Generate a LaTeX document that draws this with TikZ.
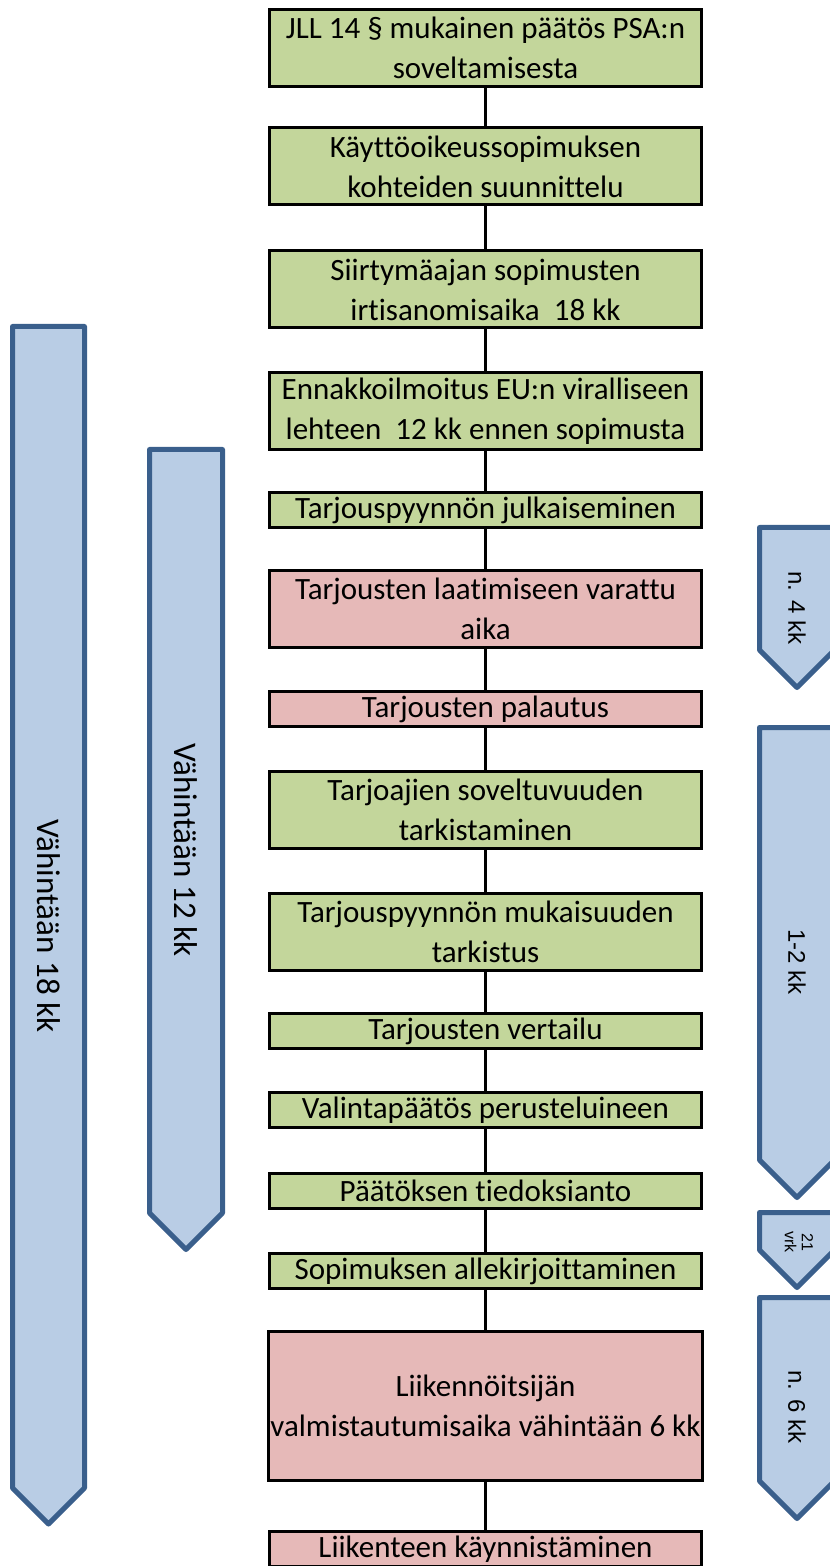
\documentclass[tikz,border=0pt]{standalone}
\usepackage{fontspec}
\setmainfont[Ligatures=NoCommon]{Carlito}
\newfontfamily\arialfont{Liberation Sans}
\definecolor{stagegreen}{RGB}{195,214,155}
\definecolor{stagepink}{RGB}{230,185,184}
\definecolor{spanfill}{RGB}{185,205,229}
\definecolor{spanedge}{RGB}{58,95,140}
\tikzset{
  stage/.style={draw=black, line width=1.5pt, minimum width=216pt, inner sep=1pt,
    align=center, font=\fontsize{15.5}{20}\selectfont},
  tall/.style={minimum height=38.5pt},
  short/.style={minimum height=17.5pt},
  green/.style={stage, fill=stagegreen},
  pink/.style={stage, fill=stagepink},
  link/.style={line width=1.5pt},
  span/.style={draw=spanedge, fill=spanfill, line width=2.5pt, line join=round},
  spantext/.style={rotate=-90, font=\fontsize{16.5}{18}\selectfont},
  spansmall/.style={rotate=-90, font=\arialfont\fontsize{12}{14}\selectfont}
}
\begin{document}
\begin{tikzpicture}[x=0.5pt,y=-0.5pt]
    \useasboundingbox (0,0) rectangle (829,1566);

    %Timeline boxes
    \node[green, tall] (jll) at (485.5,48) {JLL 14 § mukainen päätös PSA:n\\soveltamisesta};
    \node[green, tall] (kohteet) at (485.5,166.5) {Käyttöoikeussopimuksen\\kohteiden suunnittelu};
    \node[green, tall] (siirtyma) at (485.5,289.5) {Siirtymäajan sopimusten\\irtisanomisaika~ 18 kk};
    \node[green, tall] (ennakko) at (485.5,411) {Ennakkoilmoitus EU:n viralliseen\\lehteen~ 12 kk ennen sopimusta};
    \node[green, short] (julkaisu) at (485.5,510.5) {Tarjouspyynnön julkaiseminen};
    \node[pink, tall] (laadinta) at (485.5,609) {Tarjousten laatimiseen varattu\\aika};
    \node[pink, short] (palautus) at (485.5,709) {Tarjousten palautus};
    \node[green, tall] (soveltuvuus) at (485.5,810) {Tarjoajien soveltuvuuden\\tarkistaminen};
    \node[green, tall] (mukaisuus) at (485.5,931.5) {Tarjouspyynnön mukaisuuden\\tarkistus};
    \node[green, short] (vertailu) at (485.5,1031) {Tarjousten vertailu};
    \node[green, short] (valinta) at (485.5,1110) {Valintapäätös perusteluineen};
    \node[green, short] (tiedoksi) at (485.5,1191) {Päätöksen tiedoksianto};
    \node[green, short] (allekirjoitus) at (485.5,1271) {Sopimuksen allekirjoittaminen};
    \node[pink, minimum height=74.5pt] (valmistautuminen) at (485.5,1406) {Liikennöitsijän\\valmistautumisaika vähintään 6 kk};
    \node[pink, short] (kaynnistys) at (485.5,1549) {Liikenteen käynnistäminen};

    %Connect boxes
    \foreach \a/\b in {jll/kohteet, kohteet/siirtyma, siirtyma/ennakko, ennakko/julkaisu,
        julkaisu/laadinta, laadinta/palautus, palautus/soveltuvuus, soveltuvuus/mukaisuus,
        mukaisuus/vertailu, vertailu/valinta, valinta/tiedoksi, tiedoksi/allekirjoitus,
        allekirjoitus/valmistautuminen, valmistautuminen/kaynnistys}
        \draw[link] (\a) -- (\b);

    %Long spans on the left
    \draw[span] (12.5,326.5) -- (84.5,326.5) -- (84.5,1488) -- (48.5,1524) -- (12.5,1488) -- cycle;
    \node[spantext] (min18) at (48.5,926) {Vähintään 18 kk};

    \draw[span] (149.5,449.5) -- (222.5,449.5) -- (222.5,1213) -- (186,1249.5) -- (149.5,1213) -- cycle;
    \node[spantext] (min12) at (186,850) {Vähintään 12 kk};

    %Short spans on the right
    \draw[span] (759.5,527.5) -- (834.5,527.5) -- (834.5,650) -- (797,687.5) -- (759.5,650) -- cycle;
    \node[spansmall] (n4) at (797,608) {n. 4 kk};

    \draw[span] (759.5,727.5) -- (834.5,727.5) -- (834.5,1160) -- (797,1197.5) -- (759.5,1160) -- cycle;
    \node[spansmall] (kk12) at (797,962) {1-2 kk};

    \draw[span] (759.5,1212.5) -- (834.5,1212.5) -- (834.5,1250) -- (797,1287.5) -- (759.5,1250) -- cycle;
    \node[spansmall, font=\arialfont\fontsize{8}{8.5}\selectfont, align=center] (vrk21) at (799,1242) {21\\vrk};

    \draw[span] (759.5,1297.5) -- (834.5,1297.5) -- (834.5,1481) -- (797,1518.5) -- (759.5,1481) -- cycle;
    \node[spansmall] (n6) at (797,1407) {n. 6 kk};

\end{tikzpicture}
\end{document}
